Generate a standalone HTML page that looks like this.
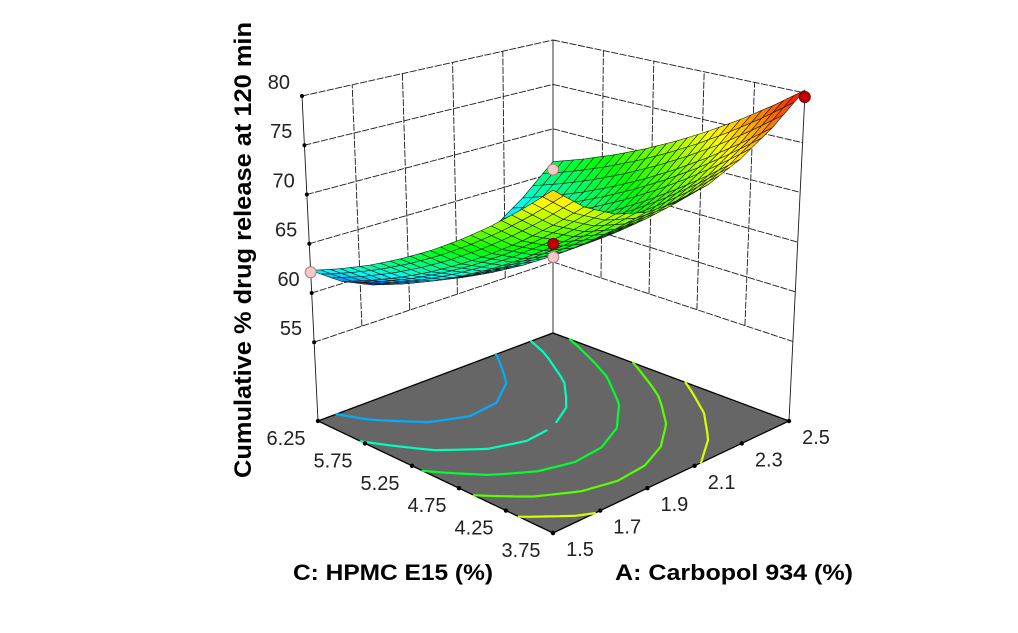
<!DOCTYPE html>
<html><head><meta charset="utf-8"><style>
html,body{margin:0;padding:0;background:#fff;}
svg{display:block;font-family:"Liberation Sans",sans-serif;}
</style></head><body>
<svg id="chart" width="1018" height="633" viewBox="0 0 1018 633" xmlns="http://www.w3.org/2000/svg">
<rect x="0" y="0" width="1018" height="633" fill="#fff"/>
<g id="walls"></g>
<g id="floor"></g>
<g id="surface"></g>
<g id="points"></g>
<g id="labels"></g>
<text x="0" y="0" transform="translate(251,250) rotate(-90)" text-anchor="middle" font-size="24" font-weight="bold" fill="#000" textLength="456" lengthAdjust="spacingAndGlyphs">Cumulative % drug release at 120 min</text>
<text x="393" y="580" text-anchor="middle" font-size="22" font-weight="bold" fill="#000" textLength="200" lengthAdjust="spacingAndGlyphs">C: HPMC E15 (%)</text>
<text x="734" y="580" text-anchor="middle" font-size="22" font-weight="bold" fill="#000" textLength="238" lengthAdjust="spacingAndGlyphs">A: Carbopol 934 (%)</text>
</svg>
<script>
// ---- data ----
const aTicks = [1.5, 1.7, 1.9, 2.1, 2.3, 2.5];
const cTicks = [3.75, 4.25, 4.75, 5.25, 5.75, 6.25];
const zTicks = [55, 60, 65, 70, 75, 80];
const aGrid = [1.5, 1.625, 1.75, 1.875, 2.0, 2.125, 2.25, 2.375, 2.5];
const cGrid = [3.75, 4.0625, 4.375, 4.6875, 5.0, 5.3125, 5.625, 5.9375, 6.25];
const zAtC375 = [75.5, 73.52, 72.28, 71.77, 72.0, 72.97, 74.68, 77.12, 80.3];
const zAtC406 = [73.33, 71.33, 70.08, 69.56, 69.78, 70.73, 72.43, 74.86, 78.03];
const zAtC438 = [71.3, 69.29, 68.03, 67.49, 67.7, 68.64, 70.33, 72.74, 75.9];
const zAtC469 = [69.43, 67.41, 66.13, 65.58, 65.78, 66.71, 68.38, 70.78, 73.93];
const zAtC500 = [67.7, 65.67, 64.38, 63.82, 64.0, 64.92, 66.58, 68.97, 72.1];
const zAtC531 = [66.13, 64.08, 62.78, 62.21, 62.38, 63.28, 64.93, 67.31, 70.43];
const zAtC563 = [64.7, 62.64, 61.33, 60.74, 60.9, 61.79, 63.43, 65.79, 68.9];
const zAtC594 = [63.43, 61.36, 60.03, 59.43, 59.58, 60.46, 62.08, 64.43, 67.53];
const zAtC625 = [62.3, 60.22, 58.88, 58.27, 58.4, 59.27, 60.88, 63.22, 66.3];
const zGrid = [zAtC375, zAtC406, zAtC438, zAtC469, zAtC500, zAtC531, zAtC563, zAtC594, zAtC625];
const contourLevels = [61, 64, 67, 70, 73];
const ptA = [1.5, 2.5, 2.0, 2.0, 2.5];
const ptC = [6.25, 3.75, 5.0, 5.0, 6.25];
const ptZ = [62.1, 79.6, 63.7, 65.0, 65.4];
const ptAbove = [0, 1, 0, 1, 0];

// ---- projection (axis functions) ----
const A0 = 1.5, A1 = 2.5, C0 = 3.75, C1 = 6.25, Z0 = 47, Z1 = 80;
const Fb = [553, 533], Rb = [789, 421], Lb = [318, 421], Bb = [553, 333];
const Ft = [553, 136], Rt = [805, 93], Lt = [302, 96], Bt = [553, 40];
function bil(p00, p10, p01, p11, u, v) {
  return [
    (1-u)*(1-v)*p00[0] + u*(1-v)*p10[0] + (1-u)*v*p01[0] + u*v*p11[0],
    (1-u)*(1-v)*p00[1] + u*(1-v)*p10[1] + (1-u)*v*p01[1] + u*v*p11[1]
  ];
}
function proj(a, c, z) {
  const u = (a - A0) / (A1 - A0), v = (c - C0) / (C1 - C0), w = (z - Z0) / (Z1 - Z0);
  const b = bil(Fb, Rb, Lb, Bb, u, v), t = bil(Ft, Rt, Lt, Bt, u, v);
  return [b[0] + (t[0] - b[0]) * w, b[1] + (t[1] - b[1]) * w];
}
const NS = "http://www.w3.org/2000/svg";
function mk(tag, attrs, parent) {
  const e = document.createElementNS(NS, tag);
  for (const k in attrs) e.setAttribute(k, attrs[k]);
  parent.appendChild(e);
  return e;
}
function line(p, q, parent, stroke, sw, dash) {
  const e = mk('line', {x1: p[0].toFixed(1), y1: p[1].toFixed(1), x2: q[0].toFixed(1), y2: q[1].toFixed(1), stroke: stroke, 'stroke-width': sw}, parent);
  if (dash) e.setAttribute('stroke-dasharray', dash);
  return e;
}
let zmin = Infinity, zmax = -Infinity;
zGrid.forEach(r => r.forEach(z => { zmin = Math.min(zmin, z); zmax = Math.max(zmax, z); }));
function jet(z) {
  let t = (z - zmin) / (zmax - zmin); t = Math.max(0, Math.min(1, t));
  t = Math.pow(t, 0.85);
  let r, g, b;
  if (t < .25) { r = 0; g = 4*t; b = 1; }
  else if (t < .5) { r = 0; g = 1; b = 1 - 4*(t - .25); }
  else if (t < .75) { r = 4*(t - .5); g = 1; b = 0; }
  else { r = 1; g = 1 - 4*(t - .75); b = 0; }
  return `rgb(${Math.round(r*255)},${Math.round(g*255)},${Math.round(b*255)})`;
}
function zAt(fi, fj) {
  const i = Math.min(Math.floor(fi), 7), j = Math.min(Math.floor(fj), 7);
  const u = fi - i, v = fj - j;
  return (1-u)*(1-v)*zGrid[j][i] + u*(1-v)*zGrid[j][i+1] + (1-u)*v*zGrid[j+1][i] + u*v*zGrid[j+1][i+1];
}
function aAt(fi) { const i = Math.min(Math.floor(fi), 7), u = fi - i; return aGrid[i] + (aGrid[i+1] - aGrid[i]) * u; }
function cAt(fj) { const j = Math.min(Math.floor(fj), 7), v = fj - j; return cGrid[j] + (cGrid[j+1] - cGrid[j]) * v; }

// ---- walls ----
const walls = document.getElementById('walls');
const wc = '#1a1a1a';
zTicks.forEach(z => {
  let l = line(proj(A0, C1, z), proj(A1, C1, z), walls, wc, 0.9, '7,1.5');
  
  
  l = line(proj(A1, C1, z), proj(A1, C0, z), walls, wc, 0.9, '7,1.5');
  
  
});
aTicks.forEach(a => {
  const lo = (a === A0 || a === A1) ? Z0 : zTicks[0];
  const l = line(proj(a, C1, lo), proj(a, C1, Z1), walls, wc, 0.9, (a === A0 || a === A1) ? null : '7,1.5');
  
  
});
cTicks.forEach(c => {
  if (c === C1) return;
  const lo = (c === C0) ? Z0 : zTicks[0];
  const l = line(proj(A1, c, lo), proj(A1, c, Z1), walls, wc, 0.9, c === C0 ? null : '7,1.5');
  
  
});

// ---- floor ----
const floor = document.getElementById('floor');
const fp = [proj(A0, C0, Z0), proj(A1, C0, Z0), proj(A1, C1, Z0), proj(A0, C1, Z0)];
const fpoly = mk('polygon', {points: fp.map(p => p.join(',')).join(' '), fill: '#666666', stroke: '#000', 'stroke-width': 1.3}, floor);


const SUB = 4, NF = 8 * SUB;
contourLevels.forEach(lv => {
  let d = '';
  for (let j = 0; j < NF; j++) for (let i = 0; i < NF; i++) {
    const fi0 = i / SUB, fi1 = (i + 1) / SUB, fj0 = j / SUB, fj1 = (j + 1) / SUB;
    const cs = [[fi0, fj0], [fi1, fj0], [fi1, fj1], [fi0, fj1]];
    const zs = cs.map(p => zAt(p[0], p[1]));
    const pts = [];
    for (let k = 0; k < 4; k++) {
      const z1 = zs[k], z2 = zs[(k + 1) % 4];
      if ((z1 - lv) * (z2 - lv) < 0) {
        const t = (lv - z1) / (z2 - z1);
        const p1 = cs[k], p2 = cs[(k + 1) % 4];
        const fi = p1[0] + (p2[0] - p1[0]) * t, fj = p1[1] + (p2[1] - p1[1]) * t;
        pts.push(proj(aAt(fi), cAt(fj), Z0));
      }
    }
    for (let k = 0; k + 1 < pts.length; k += 2)
      d += `M${pts[k][0].toFixed(1)},${pts[k][1].toFixed(1)}L${pts[k+1][0].toFixed(1)},${pts[k+1][1].toFixed(1)}`;
  }
  const path = mk('path', {d: d, stroke: jet(lv), 'stroke-width': 2.2, fill: 'none', 'stroke-linecap': 'round'}, floor);
  
  
});
cTicks.forEach(c => {
  const p = proj(A0, c, Z0);
  const dot = mk('circle', {cx: p[0], cy: p[1], r: 2.2, fill: '#000'}, floor);
  
  
});
aTicks.forEach(a => {
  const p = proj(a, C0, Z0);
  const dot = mk('circle', {cx: p[0], cy: p[1], r: 2.2, fill: '#000'}, floor);
  
  
});
zTicks.forEach(z => {
  const p = proj(A0, C1, z);
  const dot = mk('circle', {cx: p[0], cy: p[1], r: 2, fill: '#000'}, floor);
  
  
});

// ---- surface ----
const surf = document.getElementById('surface');
const S = 3, NSF = 8 * S;
const quads = [];
for (let j = 0; j < NSF; j++) for (let i = 0; i < NSF; i++) {
  const cs = [[i/S, j/S], [(i+1)/S, j/S], [(i+1)/S, (j+1)/S], [i/S, (j+1)/S]];
  const zs = cs.map(p => zAt(p[0], p[1]));
  const pts = cs.map((p, k) => proj(aAt(p[0]), cAt(p[1]), zs[k]));
  const cen = proj(aAt((i + .5)/S), cAt((j + .5)/S), Z0);
  quads.push({pts: pts, z: (zs[0]+zs[1]+zs[2]+zs[3])/4, depth: cen[1]});
}
quads.sort((p, q) => p.depth - q.depth);
quads.forEach(q => {
  const poly = mk('polygon', {points: q.pts.map(p => p[0].toFixed(1) + ',' + p[1].toFixed(1)).join(' '), fill: jet(q.z), stroke: '#1a1a1a', 'stroke-width': 0.6, 'stroke-linejoin': 'round'}, surf);
  
  
});

// ---- design points ----
const ptsG = document.getElementById('points');
ptA.forEach((a, k) => {
  const p = proj(a, ptC[k], ptZ[k]);
  const c = mk('circle', {cx: p[0].toFixed(1), cy: p[1].toFixed(1), r: 5.5, fill: ptAbove[k] ? '#c00000' : '#f6c9c9', stroke: ptAbove[k] ? '#6a0000' : '#b07a7a', 'stroke-width': 1}, ptsG);
  
  
});

// ---- tick labels ----
const lab = document.getElementById('labels');
zTicks.forEach(z => {
  const p = proj(A0, C1, z);
  const t = mk('text', {x: (p[0] - 12).toFixed(1), y: (p[1] - 7).toFixed(1), 'text-anchor': 'end', 'font-size': 20, fill: '#222'}, lab);
  t.textContent = String(z);
  
  
});
cTicks.forEach(c => {
  const p = proj(A0, c, Z0);
  const t = mk('text', {x: (p[0] - 32).toFixed(1), y: (p[1] + 24).toFixed(1), 'text-anchor': 'middle', 'font-size': 20, fill: '#222'}, lab);
  t.textContent = String(c);
  
  
});
aTicks.forEach(a => {
  const p = proj(a, C0, Z0);
  const t = mk('text', {x: (p[0] + 27).toFixed(1), y: (p[1] + 23).toFixed(1), 'text-anchor': 'middle', 'font-size': 20, fill: '#222'}, lab);
  t.textContent = String(a);
  
  
});
</script>
</body></html>
